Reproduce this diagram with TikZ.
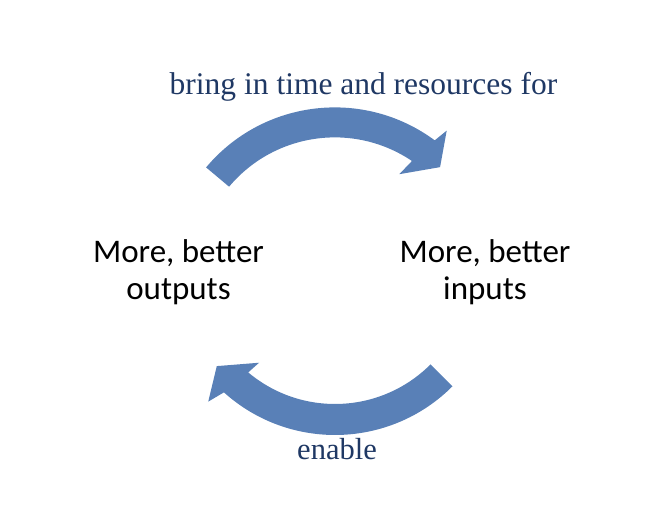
\documentclass[tikz,border=0pt]{standalone}
\usepackage{fontspec}
\setmainfont{Liberation Serif}
\newfontfamily\etiqfont{Carlito}
\usepackage{tikz}
\usetikzlibrary{calc}
\usepackage{xcolor}
\definecolor{flecha}{RGB}{89,128,183}
\definecolor{azultexto}{RGB}{31,56,100}

\begin{document}
\begin{tikzpicture}[x=1pt,y=1pt,
        flechabloque/.style={fill=flecha, draw=none},
        verbo/.style={text=azultexto, font=\fontsize{31.5}{36}\selectfont, inner sep=0pt, anchor=base},
        caja/.style={font=\etiqfont\fontsize{33}{37}\selectfont, align=center, inner sep=0pt}]
        \useasboundingbox (0,0) rectangle (672,506);

        % Parámetros
        \def\Ra{168} % radio exterior arriba
        \def\ra{138} % radio interior arriba
        \def\Rb{166} % radio exterior abajo
        \def\rb{135} % radio interior abajo

        % Centros de las flechas
        \coordinate (centroA) at (334.8,230.6);
        \coordinate (centroB) at (335,237);

        % Flecha de arriba
        \fill[flechabloque] ($(centroA)+(140:\Ra)$)
            arc[start angle=140, end angle=53.5, radius=\Ra]
            -- ($(centroA)+(52.3:183)$)
            -- ($(centroA)+(45.8:151)$)
            -- ($(centroA)+(57.5:120)$)
            -- ($(centroA)+(56:\ra)$)
            arc[start angle=56, end angle=140, radius=\ra] -- cycle;

        % Flecha de abajo
        \fill[flechabloque] ($(centroB)+(-45:\Rb)$)
            arc[start angle=-45, end angle=-132, radius=\Rb]
            -- ($(centroB)+(-133.7:183.5)$)
            -- ($(centroB)+(-140.6:153)$)
            -- ($(centroB)+(-129:120.6)$)
            -- ($(centroB)+(-130:\rb)$)
            arc[start angle=-130, end angle=-45, radius=\rb] -- cycle;

        % Etiquetas
        \node[caja] (salidas) at (178.5,234) {More, better\\outputs};
        \node[caja] (entradas) at (485,234) {More, better\\inputs};
        \node[verbo] (traer) at (363.5,411.7) {bring in time and resources for};
        \node[verbo, font=\fontsize{30.5}{35}\selectfont] (permitir) at (337,46) {enable};

\end{tikzpicture}
\end{document}
